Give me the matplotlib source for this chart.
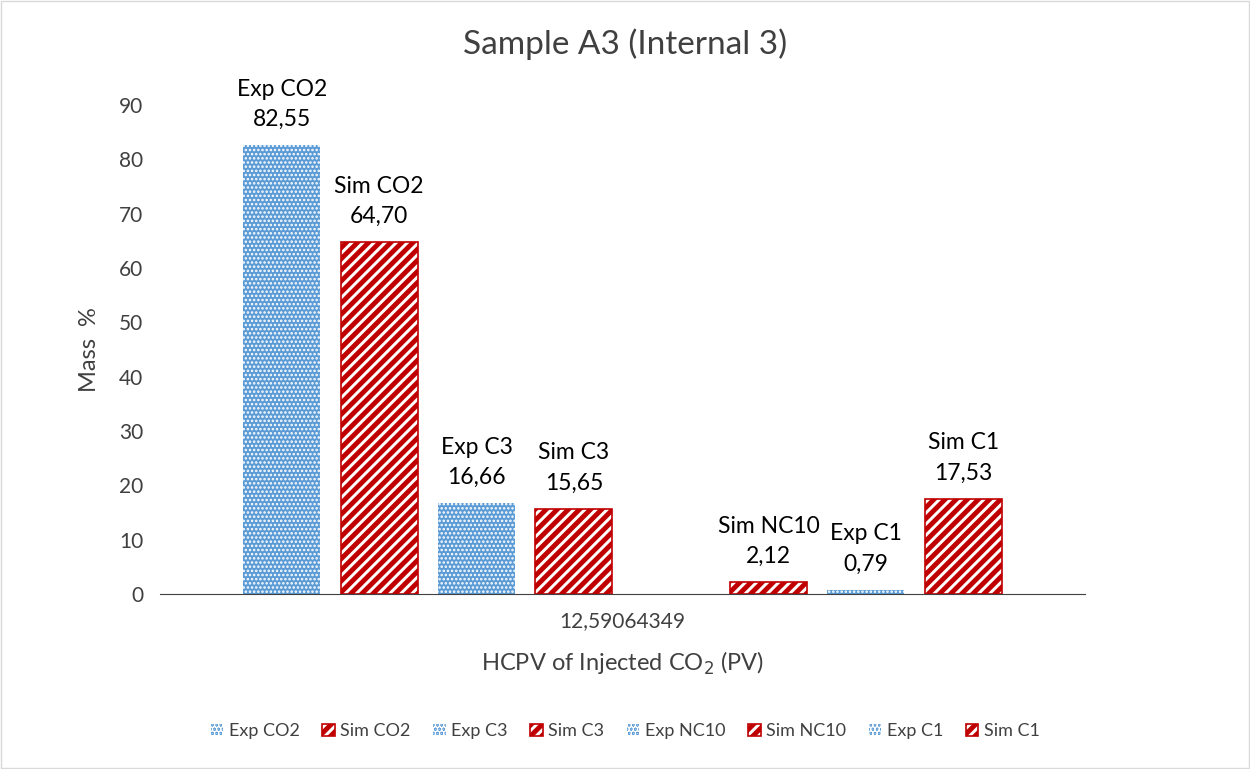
import numpy as np
import matplotlib
matplotlib.use("Agg")
import matplotlib.pyplot as plt

plt.rcParams['font.family'] = ['Lato', 'DejaVu Sans']

# 数据
series = ["Exp CO2", "Sim CO2", "Exp C3", "Sim C3", "Exp NC10", "Sim NC10", "Exp C1", "Sim C1"]
values = [82.55, 64.70, 16.66, 15.65, np.nan, 2.12, 0.79, 17.53]
category = "12,59064349"
yticks = [0, 10, 20, 30, 40, 50, 60, 70, 80, 90]

blue = "#5b9bd5"
red = "#c00000"

fig = plt.figure(figsize=(12.5, 7.69), dpi=100)
ax = fig.add_axes([0.128, 0.2276, 0.74, 0.636])

width = 0.0833
pitch = 0.1052
n = len(series)
handles = []
for i, (name, v) in enumerate(zip(series, values)):
    x = (i - (n - 1) / 2) * pitch
    h = 0 if np.isnan(v) else v
    if name.startswith("Exp"):
        plt.rcParams['hatch.linewidth'] = 1.2
        b = ax.bar(x, h, width, color=blue, edgecolor="white", hatch="....", linewidth=0, label=name)
    else:
        plt.rcParams['hatch.linewidth'] = 3.5
        b = ax.bar(x, h, width, color="white", edgecolor=red, hatch="///", linewidth=1.2, label=name)
    handles.append(b)
    if not np.isnan(v):
        ax.text(x, h + 2.8, name + "\n" + f"{v:.2f}".replace(".", ","), ha="center", va="bottom",
                fontsize=16.5, linespacing=1.55, color="black")

ax.set_xlim(-0.5, 0.5)
ax.set_ylim(0, 90)
ax.set_yticks(yticks)
ax.set_xticks([0])
ax.set_xticklabels([category])
ax.tick_params(axis="both", length=0, labelsize=15, labelcolor="#404040", pad=12)
for s in ["top", "right", "left"]:
    ax.spines[s].set_visible(False)
ax.spines["bottom"].set_color("#404040")
ax.spines["bottom"].set_linewidth(0.8)

ax.set_ylabel("Mass  %", fontsize=17, color="#404040", labelpad=14)
ax.set_xlabel("HCPV of Injected CO$_2$ (PV)", fontsize=17, color="#404040", labelpad=14)
fig.suptitle("Sample A3 (Internal 3)", fontsize=24, color="#404040", y=0.963)

fig.legend(handles=handles, labels=series, loc="center", bbox_to_anchor=(0.5, 0.049), ncol=8,
           frameon=False, fontsize=13, handlelength=0.7, handleheight=0.7, handletextpad=0.3,
           columnspacing=1.25, labelcolor="#404040")

fig.patches.append(plt.Rectangle((0.001, 0.001), 0.998, 0.998, transform=fig.transFigure,
                                 fill=False, edgecolor="#d9d9d9", linewidth=1))

fig.savefig("out.png", dpi=100)
